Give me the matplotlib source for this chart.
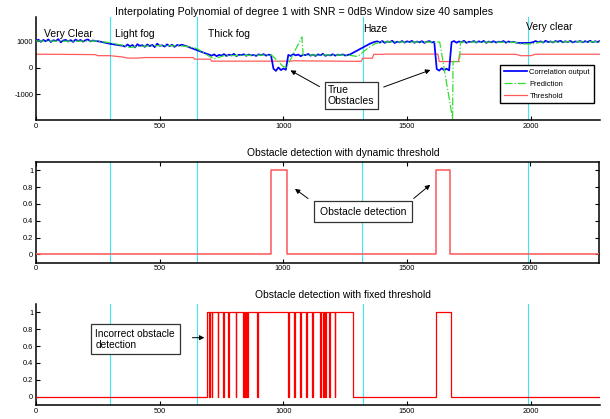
import numpy as np
import matplotlib
matplotlib.use("Agg")
import matplotlib.pyplot as plt

plt.rcParams['font.family'] = ['Liberation Sans', 'DejaVu Sans']
plt.rcParams['axes.unicode_minus'] = False

# --- DATA ---
STEP = 10  # sample spacing of the correlation output
corr_output = [
    # very clear
    1010, 1050, 970, 1040, 990, 1060, 960, 1030, 1000, 1070, 950, 1020, 1045,
    980, 1035, 965, 1055, 1000, 1040, 975, 1030, 1060, 985, 1020, 1000,
    # ramp to light fog
    990, 975, 955, 935, 915, 895, 880, 865, 850, 835, 825,
    # light fog
    790, 870, 800, 850, 760, 880, 820, 845, 780, 870, 810, 855, 770, 900,
    820, 840, 790, 875, 805, 860, 780, 850, 830, 860,
    # ramp to thick fog
    830, 800, 765, 730, 695, 660, 625, 590, 555, 520, 490,
    # thick fog
    450, 500, 430, 480, 455, 510, 440, 490, 460, 520, 435, 485, 470, 505,
    445, 495, 460, 480, 440, 500, 470, 510, 450, 490, 470,
    # obstacle 1
    -40, -120, 10, -90, -30, -80,
    # thick fog
    480, 440, 510, 460, 495, 430, 485, 470, 515, 450, 490, 440, 500, 465,
    520, 445, 480, 460, 505, 450, 490, 470, 500, 455, 475,
    # ramp to haze
    500, 550, 600, 650, 700, 750, 800, 850, 900, 940, 970,
    # haze
    990, 940, 1000, 930, 985, 960, 1010, 925, 975, 950, 1000, 940, 990, 960,
    1005, 935, 980, 950, 995, 930, 970, 1000, 945, 970,
    # obstacle 2
    -50, -110, -20, -90, -40, -100,
    # very clear
    960, 1000, 935, 985, 950, 1010, 930, 975, 960, 1000, 940, 990, 955, 1005,
    930, 980, 950, 995, 940, 975, 960, 1000, 935, 985, 950, 970, 940,
    930, 925, 925, 930, 930, 935,
    960, 1000, 950, 990, 940, 1010, 960, 985, 945, 1000, 970, 1010, 950, 990,
    960, 1005, 945, 985, 970, 1000, 950, 995, 960, 1010, 955, 990, 965, 1000,
]

pred_x = [0, 120, 250, 300, 350, 380, 420, 500, 600, 650, 700, 720, 760, 900,
          953, 1000, 1013, 1075, 1080, 1150, 1263, 1300, 1340, 1370, 1400,
          1500, 1612, 1632, 1684, 1686, 1712, 1716, 1800, 1938, 1960, 2005,
          2040, 2150, 2280]
pred_y = [1000, 990, 1000, 930, 840, 760, 800, 830, 810, 720, 430, 330, 450,
          470, 470, 40, 20, 1150, 470, 480, 470, 420, 720, 900, 970,
          960, 960, 960, -1900, 230, 230, 960, 960, 950, 890, 890,
          960, 970, 970]

thr_x = [0, 100, 240, 250, 300, 350, 370, 410, 440, 636, 640, 705, 710, 1035,
         1040, 1265, 1275, 1315, 1320, 1360, 1365, 1400, 1410, 1625, 1630,
         1708, 1712, 1940, 1960, 2000, 2020, 2280]
thr_y = [505, 500, 490, 450, 450, 400, 360, 360, 380, 380, 320, 320, 245, 245,
         260, 240, 240, 240, 355, 355, 500, 500, 510, 510, 230,
         230, 505, 500, 450, 450, 505, 505]

fog_limits = [300, 650, 1320, 1990]
fog_names = ['Very Clear', 'Light fog', 'Thick fog', 'Haze', 'Very clear']
fog_label_x = [34, 320, 697, 1321, 1980]
fog_label_y = [1260, 1260, 1260, 1440, 1535]

dyn_on = [(951, 1016), (1617, 1676)]
fixed_on = [(691, 1280), (1617, 1676)]
fixed_drops = [699, 710, 734, 758, 778, 807, 836, 845, 853, 894,
               1020, 1044, 1068, 1093, 1116, 1150, 1160, 1170, 1184, 1207]

X_MAX = 2280
CYAN = '#3ce8f2'
FS = 7.5


def binary_trace(intervals, drops=()):
    xs, ys = [0], [0]
    for start, end in intervals:
        xs += [start, start]
        ys += [0, 1]
        for d in drops:
            if start < d < end:
                xs += [d, d, d + 3, d + 3]
                ys += [1, 0, 0, 1]
        xs += [end, end]
        ys += [1, 0]
    xs.append(X_MAX)
    ys.append(0)
    return xs, ys


def style_axis(ax, box=False):
    ax.set_xlim(0, X_MAX)
    ax.set_xticks([0, 500, 1000, 1500, 2000])
    ax.tick_params(direction='in', length=3, width=0.8, labelsize=5.3, pad=2,
                   top=box, right=box)
    for side in ['left', 'bottom', 'top', 'right']:
        ax.spines[side].set_linewidth(1.1)
    if not box:
        ax.spines['top'].set_visible(False)
        ax.spines['right'].set_visible(False)
    for xv in fog_limits:
        ax.axvline(xv, color=CYAN, lw=0.8, zorder=1)


fig = plt.figure(figsize=(6.10, 4.19), dpi=100)
ax1 = fig.add_axes([0.059, 0.7136, 0.9246, 0.2465])
ax2 = fig.add_axes([0.059, 0.373, 0.9236, 0.2403])
ax3 = fig.add_axes([0.059, 0.0334, 0.9246, 0.241])

box_style = dict(fc='white', ec='#333333', lw=0.9)
arrow = dict(arrowstyle='-|>', color='black', lw=0.7, mutation_scale=7)

# --- top panel ---
corr_x = np.arange(len(corr_output)) * STEP
ax1.plot(corr_x, corr_output, color='#0000ff', lw=1.25, zorder=3,
         label='Correlation output')
ax1.plot(pred_x, pred_y, color='#33dd33', lw=0.9, ls='-.', zorder=4,
         label='Prediction')
ax1.plot(thr_x, thr_y, color='#ff5a5a', lw=0.9, zorder=2, label='Threshold')
style_axis(ax1)
ax1.set_ylim(-1960, 1910)
ax1.set_yticks([-1000, 0, 1000])
ax1.set_title('Interpolating Polynomial of degree 1 with SNR = 0dBs Window size 40 samples',
              fontsize=7.7, pad=1.5, x=0.475)
for name, lx, ly in zip(fog_names, fog_label_x, fog_label_y):
    ax1.text(lx, ly, name, fontsize=FS, ha='left', va='center')

ax1.text(1180, -1040, 'True\nObstacles', fontsize=FS, ha='left', va='center',
         linespacing=1.1, bbox=dict(boxstyle='square,pad=0.3', **box_style),
         zorder=6)
ax1.annotate('', xy=(1019, -50), xytext=(1156, -760), arrowprops=arrow, zorder=6)
ax1.annotate('', xy=(1605, -50), xytext=(1395, -760), arrowprops=arrow, zorder=6)

leg = ax1.legend(loc='upper left', bbox_to_anchor=(0.823, 0.532),
                 borderaxespad=0, fontsize=5.4, handlelength=3.1,
                 fancybox=False, edgecolor='black', framealpha=1,
                 borderpad=0.5, labelspacing=0.6, handletextpad=0.3)
leg.get_frame().set_linewidth(1.0)

# --- middle panel ---
dx, dy = binary_trace(dyn_on)
ax2.plot(dx, dy, color='#ff5555', lw=1.1, zorder=3)
style_axis(ax2, box=True)
ax2.set_ylim(-0.1, 1.1)
ax2.set_yticks([0, 0.2, 0.4, 0.6, 0.8, 1])
ax2.set_yticklabels(['0', '0.2', '0.4', '0.6', '0.8', '1'])
ax2.set_title('Obstacle detection with dynamic threshold', fontsize=7.4, pad=4,
              x=0.546)
ax2.text(1148, 0.51, 'Obstacle detection', fontsize=FS, ha='left', va='center',
         bbox=dict(boxstyle='square,pad=0.55', **box_style), zorder=6)
ax2.annotate('', xy=(1039, 0.8), xytext=(1110, 0.645), arrowprops=arrow, zorder=6)
ax2.annotate('', xy=(1604, 0.85), xytext=(1520, 0.645), arrowprops=arrow, zorder=6)

# --- bottom panel ---
fx, fy = binary_trace(fixed_on, fixed_drops)
ax3.plot(fx, fy, color='#ff0000', lw=0.9, zorder=3)
style_axis(ax3)
ax3.set_ylim(-0.1, 1.1)
ax3.set_yticks([0, 0.2, 0.4, 0.6, 0.8, 1])
ax3.set_yticklabels(['0', '0.2', '0.4', '0.6', '0.8', '1'])
ax3.set_title('Obstacle detection with fixed threshold', fontsize=7.4, pad=4,
              x=0.544)
ax3.text(240, 0.68, 'Incorrect obstacle\ndetection', fontsize=7.3, ha='left',
         va='center', linespacing=1.1,
         bbox=dict(boxstyle='square,pad=0.45', **box_style), zorder=6)
ax3.annotate('', xy=(692, 0.70), xytext=(621, 0.70), arrowprops=arrow, zorder=6)

fig.savefig('out.png', dpi=100)
